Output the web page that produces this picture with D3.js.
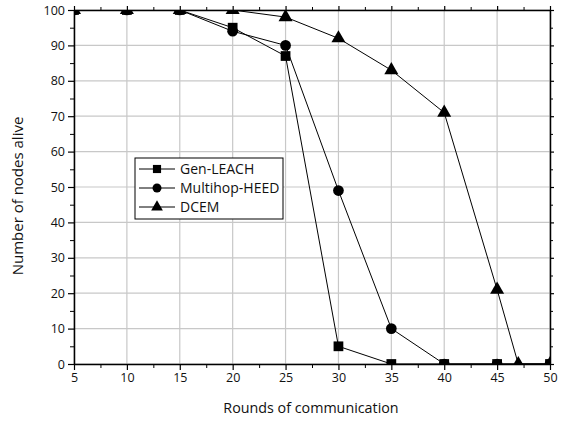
<!DOCTYPE html>
<html>
<head>
<meta charset="utf-8">
<script src="https://cdn.jsdelivr.net/npm/d3@7"></script>
<style>
body{margin:0;background:#fff}
text{font-family:"Open Sans","Noto Sans",sans-serif;fill:#111}
</style>
</head>
<body>
<svg width="567" height="425"></svg>
<script>
// data
const rounds=[5,10,15,20,25,30,35,40,45,50]
const genLeach=[100,100,100,95,87,5,0,0,0,0]
const multihopHeed=[100,100,100,94,90,49,10,0,0,0]
const dcemRounds=[5,10,15,20,25,30,35,40,45,47,50]
const dcem=[100,100,100,100,98,92,83,71,21,0,0]
const xTicks=[5,10,15,20,25,30,35,40,45,50]
const yTicks=[0,10,20,30,40,50,60,70,80,90,100]

const series=[
 {name:"Gen-LEACH",xs:rounds,ys:genLeach,sym:d3.symbolSquare,size:95},
 {name:"Multihop-HEED",xs:rounds,ys:multihopHeed,sym:d3.symbolCircle,size:90},
 {name:"DCEM",xs:dcemRounds,ys:dcem,sym:d3.symbolTriangle,size:85}
]

const svg=d3.select("svg")
const L=74,R=550,T=10,B=364
const x=d3.scaleLinear().domain([5,50]).range([L,R])
const y=d3.scaleLinear().domain([0,100]).range([B,T])

// grid
svg.append("g").selectAll("line").data(xTicks).join("line")
 .attr("x1",d=>x(d)).attr("x2",d=>x(d)).attr("y1",T).attr("y2",B)
 .attr("stroke","#c8c8c8").attr("stroke-width",1.2)
svg.append("g").selectAll("line").data(yTicks).join("line")
 .attr("y1",d=>y(d)).attr("y2",d=>y(d)).attr("x1",L).attr("x2",R)
 .attr("stroke","#c8c8c8").attr("stroke-width",1.2)

svg.append("clipPath").attr("id","clip").append("rect")
 .attr("x",L).attr("y",T).attr("width",R-L).attr("height",B-T)

const plot=svg.append("g").attr("clip-path","url(#clip)")
const line=d3.line()
series.forEach(s=>{
 const pts=s.xs.map((v,i)=>[x(v),y(s.ys[i])])
 plot.append("path").attr("d",line(pts)).attr("fill","none").attr("stroke","#000").attr("stroke-width",1)
 plot.append("g").selectAll("path").data(pts).join("path")
  .attr("d",d3.symbol(s.sym,s.size)).attr("transform",d=>`translate(${d[0]},${d[1]})`).attr("fill","#000")
})

// axes
const minorX=d3.range(7.5,50,5)
const minorY=d3.range(5,100,10)
const ax=(g,axis)=>{g.call(axis);g.select(".domain").attr("stroke-width",1.5);g.selectAll(".tick line").attr("stroke-width",1.2)}
svg.append("g").attr("transform",`translate(0,${B})`).call(g=>ax(g,d3.axisBottom(x).tickValues(xTicks).tickSize(6).tickPadding(3).tickSizeOuter(0)))
 .selectAll("text").style("font-size","12.5px")
svg.append("g").attr("transform",`translate(0,${B})`).call(d3.axisBottom(x).tickValues(minorX).tickSize(4).tickFormat("")).select(".domain").remove()
svg.append("g").attr("transform",`translate(${L},0)`).call(g=>ax(g,d3.axisLeft(y).tickValues(yTicks).tickSize(6).tickPadding(3).tickSizeOuter(0)))
 .selectAll("text").style("font-size","12.5px")
svg.append("g").attr("transform",`translate(${L},0)`).call(d3.axisLeft(y).tickValues(minorY).tickSize(4).tickFormat("")).select(".domain").remove()
svg.append("g").attr("transform",`translate(0,${T})`).call(g=>ax(g,d3.axisTop(x).tickValues(xTicks).tickSize(4).tickFormat("").tickSizeOuter(0)))
svg.append("g").attr("transform",`translate(0,${T})`).call(d3.axisTop(x).tickValues(minorX).tickSize(3).tickFormat("")).select(".domain").remove()
svg.append("g").attr("transform",`translate(${R},0)`).call(g=>ax(g,d3.axisRight(y).tickValues(yTicks).tickSize(4).tickFormat("").tickSizeOuter(0)))
svg.append("g").attr("transform",`translate(${R},0)`).call(d3.axisRight(y).tickValues(minorY).tickSize(3).tickFormat("")).select(".domain").remove()

// titles
svg.append("text").attr("x",311).attr("y",413).attr("text-anchor","middle").style("font-size","14.3px").text("Rounds of communication")
svg.append("text").attr("transform",`translate(23,196) rotate(-90)`).attr("text-anchor","middle").style("font-size","15px").text("Number of nodes alive")

// legend
const lg=svg.append("g").attr("transform","translate(135,158)")
lg.append("rect").attr("width",148).attr("height",61).attr("fill","#fff").attr("stroke","#000").attr("stroke-width",1)
series.forEach((s,i)=>{
 const yy=11+i*19
 lg.append("line").attr("x1",4).attr("x2",40).attr("y1",yy).attr("y2",yy).attr("stroke","#000")
 lg.append("path").attr("d",d3.symbol(s.sym,s.size*0.7)).attr("transform",`translate(22,${yy})`).attr("fill","#000")
 lg.append("text").attr("x",45).attr("y",yy+5).style("font-size","14px").text(s.name)
})
</script>
</body>
</html>
